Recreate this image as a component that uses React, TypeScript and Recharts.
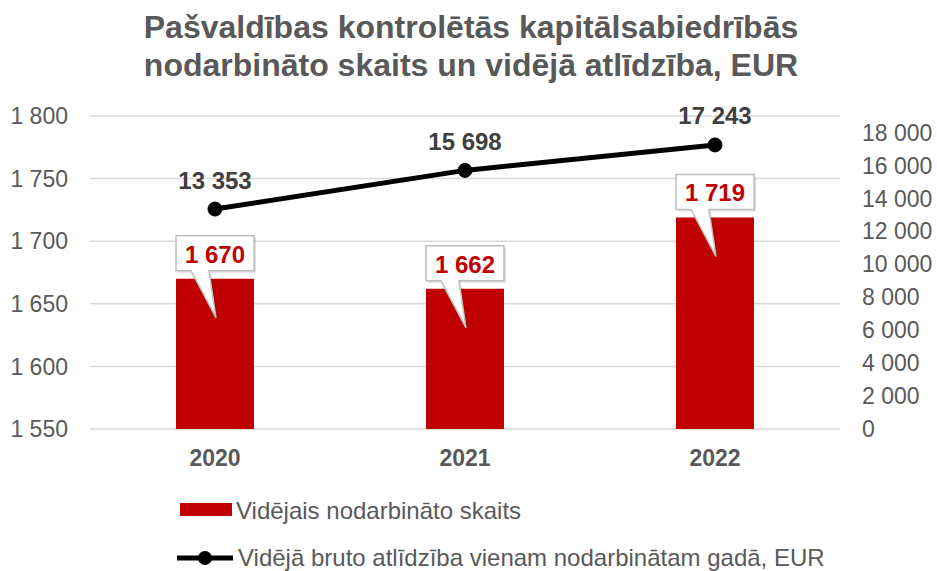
import React from 'react';
import {
  ComposedChart,
  Bar,
  Line,
  XAxis,
  YAxis,
  CartesianGrid,
  Legend,
  LabelList,
} from 'recharts';

const years = ['2020', '2021', '2022'];
const employees = [1670, 1662, 1719];
const salary = [13353, 15698, 17243];
const leftTicks = [1550, 1600, 1650, 1700, 1750, 1800];
const rightTicks = [0, 2000, 4000, 6000, 8000, 10000, 12000, 14000, 16000, 18000];
const titleLines = [
  'Pašvaldības kontrolētās kapitālsabiedrībās',
  'nodarbināto skaits un vidējā atlīdzība, EUR',
];
const seriesNames = [
  'Vidējais nodarbināto skaits',
  'Vidējā bruto atlīdzība vienam nodarbinātam gadā, EUR',
];

const data = years.map((y, i) => ({ year: y, emp: employees[i], sal: salary[i] }));

const FONT = '"Liberation Sans", Arial, sans-serif';
const RED = '#C00000';
const GRAY = '#595959';

const fmt = (v: number) => String(v).replace(/\B(?=(\d{3})+(?!\d))/g, ' ');

const BarCallout = (props: any) => {
  const { x, y, width, value } = props;
  const cx = x + width / 2;
  const top = y - 43;
  const bottom = y - 8;
  const tipY = y + 39;
  const path = `M${x},${top} L${x + width},${top} L${x + width},${bottom} L${cx - 6},${bottom} L${cx + 1},${tipY} L${cx - 24},${bottom} L${x},${bottom} Z`;
  return (
    <g>
      <path d={path} transform="translate(2,2)" fill="#000" fillOpacity={0.12} stroke="none" />
      <path d={path} fill="#fff" stroke="#BFBFBF" strokeWidth={1.5} />
      <text
        x={cx}
        y={(top + bottom) / 2 + 1}
        textAnchor="middle"
        dominantBaseline="central"
        fill={RED}
        fontSize={24}
        fontWeight="bold"
        fontFamily={FONT}
      >
        {fmt(value)}
      </text>
    </g>
  );
};

const LineLabel = (props: any) => {
  const { x, y, value } = props;
  return (
    <text
      x={x}
      y={y - 29}
      textAnchor="middle"
      dominantBaseline="central"
      fill="#404040"
      fontSize={24}
      fontWeight="bold"
      fontFamily={FONT}
    >
      {fmt(value)}
    </text>
  );
};

const LegendContent = () => (
  <svg width={937} height={90} style={{ display: 'block' }}>
    <rect x={180} y={22} width={52} height={13} fill={RED} />
    <text x={236} y={29} dominantBaseline="central" fill={GRAY} fontSize={24} fontFamily={FONT}>
      {seriesNames[0]}
    </text>
    <line x1={177} y1={77} x2={233} y2={77} stroke="#000" strokeWidth={5} />
    <circle cx={205} cy={77} r={7} fill="#000" />
    <text x={238} y={76} dominantBaseline="central" fill={GRAY} fontSize={24} fontFamily={FONT}>
      {seriesNames[1]}
    </text>
  </svg>
);

export default function App() {
  return (
    <div style={{ position: 'absolute', left: 0, top: 0, width: 937, height: 571, background: '#fff', fontFamily: FONT }}>
      <div
        style={{
          position: 'absolute',
          left: 0,
          top: 8,
          width: 942,
          textAlign: 'center',
          fontSize: 32,
          lineHeight: '38px',
          fontWeight: 'bold',
          color: GRAY,
          zIndex: 2,
        }}
      >
        {titleLines.map((l) => (
          <div key={l}>{l}</div>
        ))}
      </div>
      <ComposedChart
        width={937}
        height={571}
        data={data}
        margin={{ top: 116, right: 0, bottom: 0, left: 0 }}
        barSize={78}
      >
        <CartesianGrid yAxisId="left" vertical={false} stroke="#D9D9D9" strokeWidth={1.5} />
        <XAxis
          dataKey="year"
          axisLine={false}
          tickLine={false}
          tickSize={0}
          tickMargin={21}
          height={52}
          tick={{ fill: GRAY, fontSize: 23, fontWeight: 'bold', fontFamily: FONT }}
        />
        <YAxis
          yAxisId="left"
          orientation="left"
          width={90}
          domain={[1550, 1800]}
          ticks={leftTicks}
          axisLine={false}
          tickLine={false}
          tickSize={0}
          tickMargin={22}
          tickFormatter={fmt}
          tick={{ fill: GRAY, fontSize: 23, fontFamily: FONT }}
        />
        <YAxis
          yAxisId="right"
          orientation="right"
          width={97}
          domain={[0, 19000]}
          ticks={rightTicks}
          axisLine={false}
          tickLine={false}
          tickSize={0}
          tickMargin={22}
          tickFormatter={fmt}
          tick={{ fill: GRAY, fontSize: 23, fontFamily: FONT, textAnchor: 'start' }}
        />
        <Legend
          verticalAlign="bottom"
          align="left"
          height={90}
          content={<LegendContent />}
          wrapperStyle={{ left: 0, width: 937, height: 90 }}
        />
        <Bar yAxisId="left" dataKey="emp" name={seriesNames[0]} fill={RED} isAnimationActive={false}>
          <LabelList dataKey="emp" content={<BarCallout />} />
        </Bar>
        <Line
          yAxisId="right"
          dataKey="sal"
          name={seriesNames[1]}
          stroke="#000"
          strokeWidth={5}
          dot={{ r: 7, fill: '#000', stroke: '#000', strokeWidth: 1 }}
          activeDot={false}
          isAnimationActive={false}
        >
          <LabelList dataKey="sal" content={<LineLabel />} />
        </Line>
      </ComposedChart>
    </div>
  );
}
